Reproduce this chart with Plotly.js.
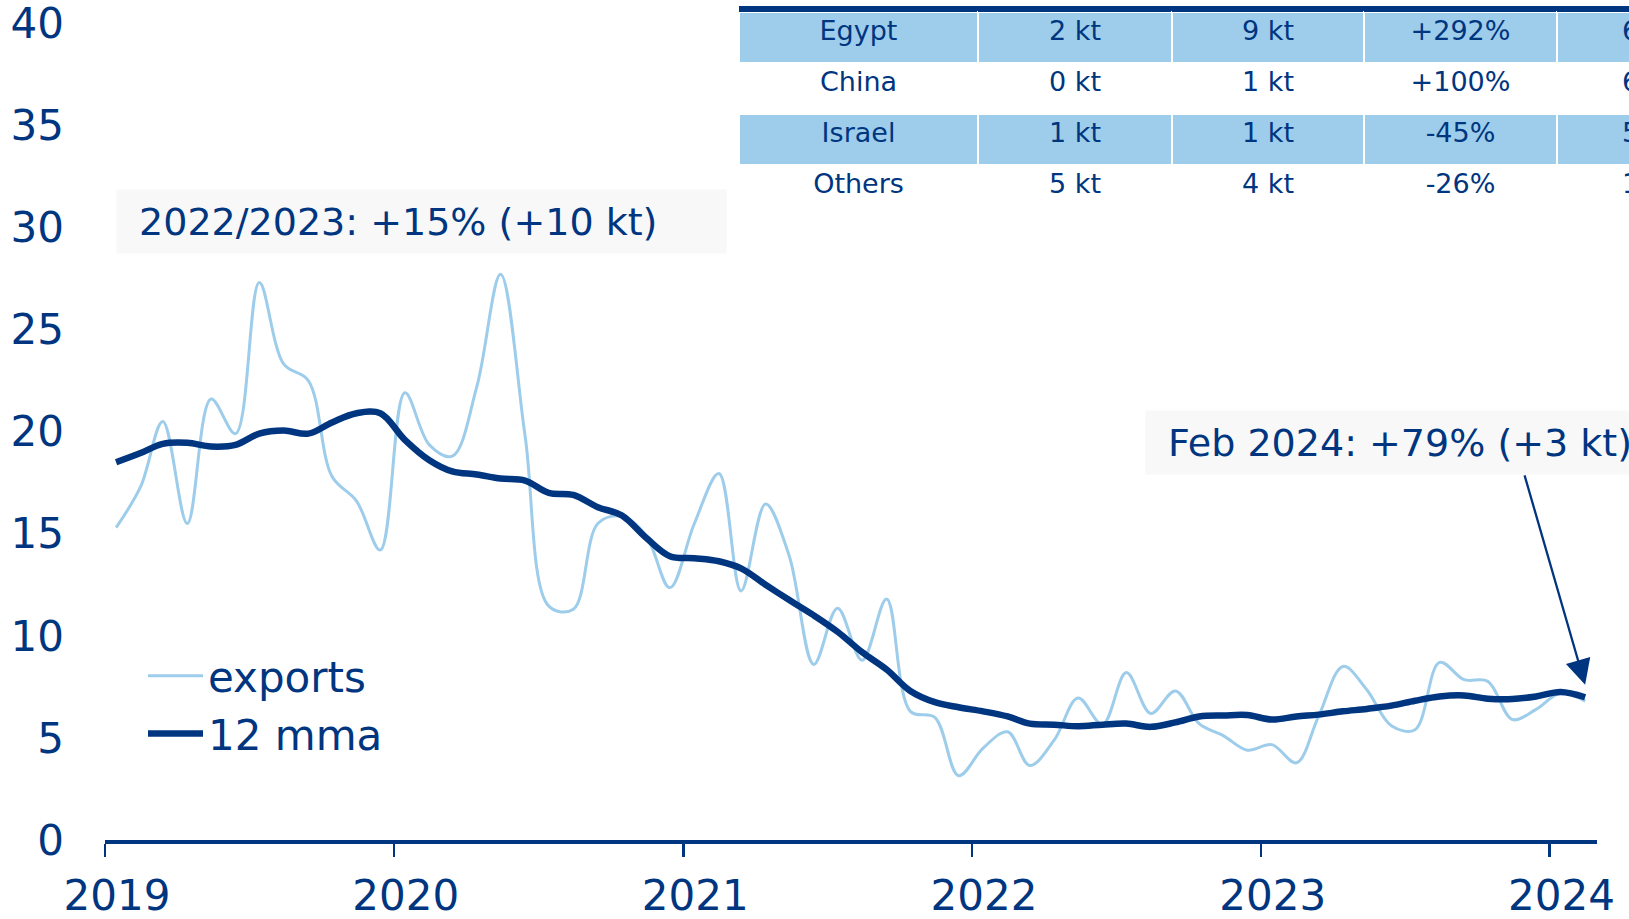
<!DOCTYPE html>
<html>
<head>
<meta charset="utf-8">
<script src="https://cdn.plot.ly/plotly-3.0.1.min.js"></script>
<style>
    html, body { margin: 0; padding: 0; overflow: hidden; background: #fff; }
</style>
</head>
<body>
<div id="chart-exports"></div>
<script type="text/javascript">
    // monthly values, kt
    var months = [
        '2019-01-15', '2019-02-15', '2019-03-15', '2019-04-15', '2019-05-15', '2019-06-15',
        '2019-07-15', '2019-08-15', '2019-09-15', '2019-10-15', '2019-11-15', '2019-12-15',
        '2020-01-15', '2020-02-15', '2020-03-15', '2020-04-15', '2020-05-15', '2020-06-15',
        '2020-07-15', '2020-08-15', '2020-09-15', '2020-10-15', '2020-11-15', '2020-12-15',
        '2021-01-15', '2021-02-15', '2021-03-15', '2021-04-15', '2021-05-15', '2021-06-15',
        '2021-07-15', '2021-08-15', '2021-09-15', '2021-10-15', '2021-11-15', '2021-12-15',
        '2022-01-15', '2022-02-15', '2022-03-15', '2022-04-15', '2022-05-15', '2022-06-15',
        '2022-07-15', '2022-08-15', '2022-09-15', '2022-10-15', '2022-11-15', '2022-12-15',
        '2023-01-15', '2023-02-15', '2023-03-15', '2023-04-15', '2023-05-15', '2023-06-15',
        '2023-07-15', '2023-08-15', '2023-09-15', '2023-10-15', '2023-11-15', '2023-12-15',
        '2024-01-15', '2024-02-15'
    ];
    var exports = [
        15.3, 17.3, 20.5, 15.5, 21.6, 19.9, 27.3, 23.3, 22.5, 17.8, 16.6, 14.2,
        21.9, 19.35, 18.8, 22.2, 27.7, 19.8, 11.45, 11.3, 15.5, 15.85, 14.9, 12.35,
        15.5, 17.95, 12.2, 16.45, 13.9, 8.6, 11.35, 8.8, 11.8, 6.3, 6.0, 3.15,
        4.5, 5.3, 3.65, 4.9, 6.95, 5.65, 8.2, 6.2, 7.3, 5.7, 5.1, 4.4,
        4.67, 3.78, 6.05, 8.5, 7.36, 5.6, 5.4, 8.7, 7.85, 7.77, 5.9, 6.4,
        7.2, 6.8
    ];
    var mma12 = [
        18.5, 18.95, 19.4, 19.45, 19.27, 19.35, 19.9, 20.05, 19.9, 20.45, 20.9, 20.9,
        19.6, 18.6, 18.05, 17.9, 17.7, 17.6, 17.0, 16.9, 16.3, 15.9, 14.8, 13.9,
        13.8, 13.65, 13.3, 12.5, 11.75, 11.0, 10.2, 9.2, 8.35, 7.3, 6.75, 6.5,
        6.3, 6.05, 5.7, 5.65, 5.57, 5.65, 5.7, 5.54, 5.76, 6.05, 6.1, 6.12,
        5.9, 6.05, 6.14, 6.3, 6.42, 6.58, 6.82, 7.03, 7.08, 6.92, 6.9, 7.03,
        7.25, 6.99
    ];
    var yearTicks = ['2019-01-01', '2020-01-01', '2021-01-01', '2022-01-01', '2023-01-01', '2024-01-01'];
    var yearLabels = ['2019', '2020', '2021', '2022', '2023', '2024'];
    var yTicks = [0, 5, 10, 15, 20, 25, 30, 35, 40];

    // destination table (top right, partly cut off)
    var countries = ['Egypt', 'China', 'Israel', 'Others'];
    var prevYear = ['2 kt', '0 kt', '1 kt', '5 kt'];
    var currYear = ['9 kt', '1 kt', '1 kt', '4 kt'];
    var change = ['+292%', '+100%', '-45%', '-26%'];
    var share = ['63%', '61%', '52%', '17%'];

    var navy = '#003580';
    var lightBlue = '#9DCDEB';
    var font = 'DejaVu Sans, Verdana, sans-serif';

    var W = 1780, H = 919;
    var L = 105, T = 4, B = 79;
    var plotW = W - L, plotH = H - T - B;
    function px(x) { return (x - L) / plotW; }
    function py(y) { return (H - B - y) / plotH; }

    var rowFill = [lightBlue, 'white', lightBlue, 'white'];

    var trace1 = {
        x: months,
        y: exports,
        name: 'exports',
        type: 'scatter',
        mode: 'lines',
        line: { color: lightBlue, width: 3, shape: 'spline', smoothing: 1 },
    };

    var trace2 = {
        x: months,
        y: mma12,
        name: '12 mma',
        type: 'scatter',
        mode: 'lines',
        line: { color: navy, width: 6.5, shape: 'spline', smoothing: 1 },
    };

    var table = {
        type: 'table',
        domain: { x: [px(739), px(1747)], y: [0.5, py(6)] },
        columnwidth: [239, 194, 192, 193, 190],
        header: {
            values: ['', '', '', '', ''],
            height: 6,
            fill: { color: navy },
            line: { width: 0, color: navy },
            font: { size: 1, color: navy },
        },
        cells: {
            values: [countries, prevYear, currYear, change, share],
            height: 51,
            align: 'center',
            fill: { color: [rowFill, rowFill, rowFill, rowFill, rowFill] },
            line: { color: 'white', width: 2 },
            font: { family: font, size: 27, color: navy },
        },
    };

    var data = [trace1, trace2, table];

    var layout = {
        width: W,
        height: H,
        margin: { l: L, r: 0, t: T, b: B },
        paper_bgcolor: 'white',
        plot_bgcolor: 'white',
        font: { family: font, color: navy },
        showlegend: true,
        legend: {
            x: px(143),
            y: py(642),
            xanchor: 'left',
            yanchor: 'top',
            bgcolor: 'rgba(0,0,0,0)',
            font: { family: font, size: 42, color: navy },
            itemwidth: 55,
            tracegroupgap: 0,
        },
        xaxis: {
            type: 'date',
            domain: [0, (1597 - L) / plotW],
            range: ['2019-01-01', '2024-03-01'],
            tickvals: yearTicks,
            ticktext: yearLabels,
            ticks: 'outside',
            ticklen: 13,
            tickwidth: 2.5,
            tickcolor: navy,
            showline: true,
            linecolor: navy,
            linewidth: 4,
            showgrid: false,
            zeroline: false,
            ticklabelshift: 12,
            ticklabelstandoff: 3,
            tickfont: { family: font, size: 42, color: navy },
        },
        yaxis: {
            domain: [0, py(23)],
            range: [0, 40.01],
            tickvals: yTicks,
            showgrid: false,
            zeroline: false,
            showline: false,
            ticks: '',
            ticklabelstandoff: 40,
            ticklabeloverflow: 'allow',
            tickfont: { family: font, size: 42, color: navy },
        },
        annotations: [
            {
                xref: 'paper', yref: 'paper',
                x: px(116), y: py(189),
                xanchor: 'left', yanchor: 'top',
                text: '\u00a02022/2023: +15% (+10 kt)',
                showarrow: false,
                align: 'left',
                width: 589, height: 43,
                borderpad: 10,
                bgcolor: '#F8F8F8',
                font: { family: font, size: 38, color: navy },
            },
            {
                xref: 'paper', yref: 'paper',
                x: px(1145), y: py(410),
                xanchor: 'left', yanchor: 'top',
                text: '\u00a0Feb 2024: +79% (+3 kt)',
                showarrow: false,
                align: 'left',
                width: 600, height: 43,
                borderpad: 10,
                bgcolor: '#F8F8F8',
                font: { family: font, size: 38, color: navy },
            },
            {
                xref: 'x', yref: 'y',
                x: '2024-02-15', y: 7.6,
                ax: -61, ay: -211,
                text: '',
                showarrow: true,
                arrowhead: 2,
                arrowsize: 2.2,
                arrowwidth: 2.3,
                arrowcolor: navy,
            },
        ],
    };

    Plotly.newPlot(document.getElementById('chart-exports'), data, layout, { displayModeBar: false, staticPlot: true });
</script>
</body>
</html>
